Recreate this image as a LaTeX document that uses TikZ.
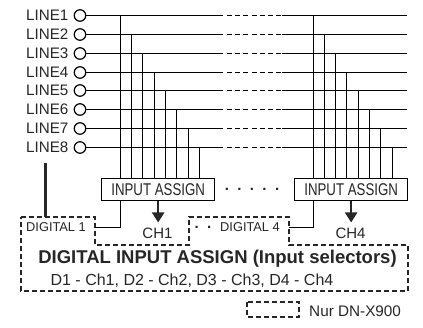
\documentclass[tikz,border=0pt]{standalone}
\usepackage{fontspec}
\setmainfont{Liberation Sans}
\newfontfamily\narrowfont[FakeStretch=0.78]{Liberation Sans}
\usetikzlibrary{positioning,arrows.meta}
\tikzset{
	port/.style={draw,circle,line width=1.2pt,minimum size=11.5pt,inner sep=0pt},
	linelabel/.style={inner sep=0pt,font=\fontsize{15.2}{16}\selectfont,text=black!85},
	wire/.style={line width=1.5pt,color=black},
	wiregap/.style={wire,dash pattern=on 5pt off 3.2pt},
	assignbox/.style={draw,line width=1.3pt,fill=white,minimum width=113pt,minimum height=22pt,inner sep=0pt,font=\narrowfont\fontsize{17}{18}\selectfont,text=black!85},
	chlabel/.style={inner sep=0pt,font=\fontsize{15}{16}\selectfont,text=black!85},
	dotlabel/.style={inner sep=0pt,anchor=base,font=\bfseries\fontsize{15}{16}\selectfont,text=black!85},
	zone/.style={line width=1.7pt,color=black!85,dash pattern=on 5pt off 3pt},
	output/.style={line width=2.2pt,color=black!85,-{Stealth[inset=0pt,length=10pt,width=12pt]}}
}
\begin{document}
\begin{tikzpicture}[x=1pt,y=-1pt]
		\useasboundingbox (0,0) rectangle (423,328);
		% inputs
		\node[port] (l1) at (80,15.5) {};
		\node[port] (l2) at (80,34.5) {};
		\node[port] (l3) at (80,53.5) {};
		\node[port] (l4) at (80,72.5) {};
		\node[port] (l5) at (80,90.5) {};
		\node[port] (l6) at (80,109.5) {};
		\node[port] (l7) at (80,128.5) {};
		\node[port] (l8) at (80,147.5) {};
		\node[linelabel,left=5pt of l1] (t1) {LINE1};
		\node[linelabel,left=5pt of l2] (t2) {LINE2};
		\node[linelabel,left=5pt of l3] (t3) {LINE3};
		\node[linelabel,left=5pt of l4] (t4) {LINE4};
		\node[linelabel,left=5pt of l5] (t5) {LINE5};
		\node[linelabel,left=5pt of l6] (t6) {LINE6};
		\node[linelabel,left=5pt of l7] (t7) {LINE7};
		\node[linelabel,left=5pt of l8] (t8) {LINE8};
		% columns where the lines break and end
		\coordinate (gapa) at (223,0);
		\coordinate (gapb) at (282,0);
		\coordinate (wend) at (407,0);
		% lines
		\draw[wire] (l1) -- (l1 -| gapa); \draw[wiregap] (l1 -| gapa) ++(4,0) -- (l1 -| gapb); \draw[wire] (l1 -| gapb) -- (l1 -| wend);
		\draw[wire] (l2) -- (l2 -| gapa); \draw[wiregap] (l2 -| gapa) ++(4,0) -- (l2 -| gapb); \draw[wire] (l2 -| gapb) -- (l2 -| wend);
		\draw[wire] (l3) -- (l3 -| gapa); \draw[wiregap] (l3 -| gapa) ++(4,0) -- (l3 -| gapb); \draw[wire] (l3 -| gapb) -- (l3 -| wend);
		\draw[wire] (l4) -- (l4 -| gapa); \draw[wiregap] (l4 -| gapa) ++(4,0) -- (l4 -| gapb); \draw[wire] (l4 -| gapb) -- (l4 -| wend);
		\draw[wire] (l5) -- (l5 -| gapa); \draw[wiregap] (l5 -| gapa) ++(4,0) -- (l5 -| gapb); \draw[wire] (l5 -| gapb) -- (l5 -| wend);
		\draw[wire] (l6) -- (l6 -| gapa); \draw[wiregap] (l6 -| gapa) ++(4,0) -- (l6 -| gapb); \draw[wire] (l6 -| gapb) -- (l6 -| wend);
		\draw[wire] (l7) -- (l7 -| gapa); \draw[wiregap] (l7 -| gapa) ++(4,0) -- (l7 -| gapb); \draw[wire] (l7 -| gapb) -- (l7 -| wend);
		\draw[wire] (l8) -- (l8 -| gapa); \draw[wiregap] (l8 -| gapa) ++(4,0) -- (l8 -| gapb); \draw[wire] (l8 -| gapb) -- (l8 -| wend);
		% assign boxes
		\node[assignbox,anchor=north west] (assign1) at (101,178) {INPUT ASSIGN};
		\node[assignbox,anchor=north west] (assign4) at (294,178) {INPUT ASSIGN};
		% drops to first box
		\draw[wire] (l1 -| 120.5,0) -- (120.5,0 |- assign1.north);
		\draw[wire] (l2 -| 131.5,0) -- (131.5,0 |- assign1.north);
		\draw[wire] (l3 -| 142.5,0) -- (142.5,0 |- assign1.north);
		\draw[wire] (l4 -| 154.5,0) -- (154.5,0 |- assign1.north);
		\draw[wire] (l5 -| 165.5,0) -- (165.5,0 |- assign1.north);
		\draw[wire] (l6 -| 176.5,0) -- (176.5,0 |- assign1.north);
		\draw[wire] (l7 -| 188.5,0) -- (188.5,0 |- assign1.north);
		\draw[wire] (l8 -| 199.5,0) -- (199.5,0 |- assign1.north);
		% drops to second box
		\draw[wire] (l1 -| 313.5,0) -- (313.5,0 |- assign4.north);
		\draw[wire] (l2 -| 324.5,0) -- (324.5,0 |- assign4.north);
		\draw[wire] (l3 -| 335.5,0) -- (335.5,0 |- assign4.north);
		\draw[wire] (l4 -| 346.5,0) -- (346.5,0 |- assign4.north);
		\draw[wire] (l5 -| 358.5,0) -- (358.5,0 |- assign4.north);
		\draw[wire] (l6 -| 369.5,0) -- (369.5,0 |- assign4.north);
		\draw[wire] (l7 -| 380.5,0) -- (380.5,0 |- assign4.north);
		\draw[wire] (l8 -| 392.5,0) -- (392.5,0 |- assign4.north);
		% dashed region
		\draw[zone] (21,217) -- (95,217) -- (95,245) -- (189,245) -- (189,217) -- (289,217) -- (289,245) -- (408,245) -- (408,291) -- (21,291) -- cycle;
		% digital side
		\node[chlabel,font=\fontsize{12.8}{14}\selectfont] (dig1) at (56,227.5) {DIGITAL 1};
		\node[chlabel,font=\fontsize{12.8}{14}\selectfont] (dig4) at (250,227.5) {DIGITAL 4};
		\coordinate (digtop) at (45.5,163);
		\draw[line width=2.4pt,color=black!85] (digtop) -- (digtop |- 0,217);
		\coordinate (in1) at (95,227.5);
		\coordinate (in4) at (289,227.5);
		\draw[wire] (120.5,0 |- assign1.south) |- (in1);
		\draw[wire] (313.5,0 |- assign4.south) |- (in4);
		% outputs
		\node[chlabel] (ch1) at (157.5,233) {CH1};
		\node[chlabel] (ch4) at (350.5,233) {CH4};
		\draw[output] (assign1.south) -- (assign1.south |- 0,222.5);
		\draw[output] (assign4.south) -- (assign4.south |- 0,222.5);
		% dots
		\node[dotlabel] (dotsa) at (252,191) {.\hspace{8.4pt}.\hspace{8.4pt}.\hspace{8.4pt}.\hspace{8.4pt}.};
		\node[dotlabel] (dotsb) at (203,229) {.\hspace{8.4pt}.};
		% text
		\node[inner sep=0pt,font=\bfseries\fontsize{18.5}{20}\selectfont,text=black!85] (title) at (217.5,259) {DIGITAL INPUT ASSIGN (Input selectors)};
		\node[linelabel,font=\fontsize{16}{18}\selectfont] (pairs) at (192,281) {D1 - Ch1, D2 - Ch2, D3 - Ch3, D4 - Ch4};
		% legend
		\draw[zone,line width=1.3pt] (247,302) rectangle (299,317);
		\node[linelabel,anchor=west,font=\fontsize{15.3}{16}\selectfont] (nur) at (309,311) {Nur DN-X900};
	\end{tikzpicture}
\end{document}
